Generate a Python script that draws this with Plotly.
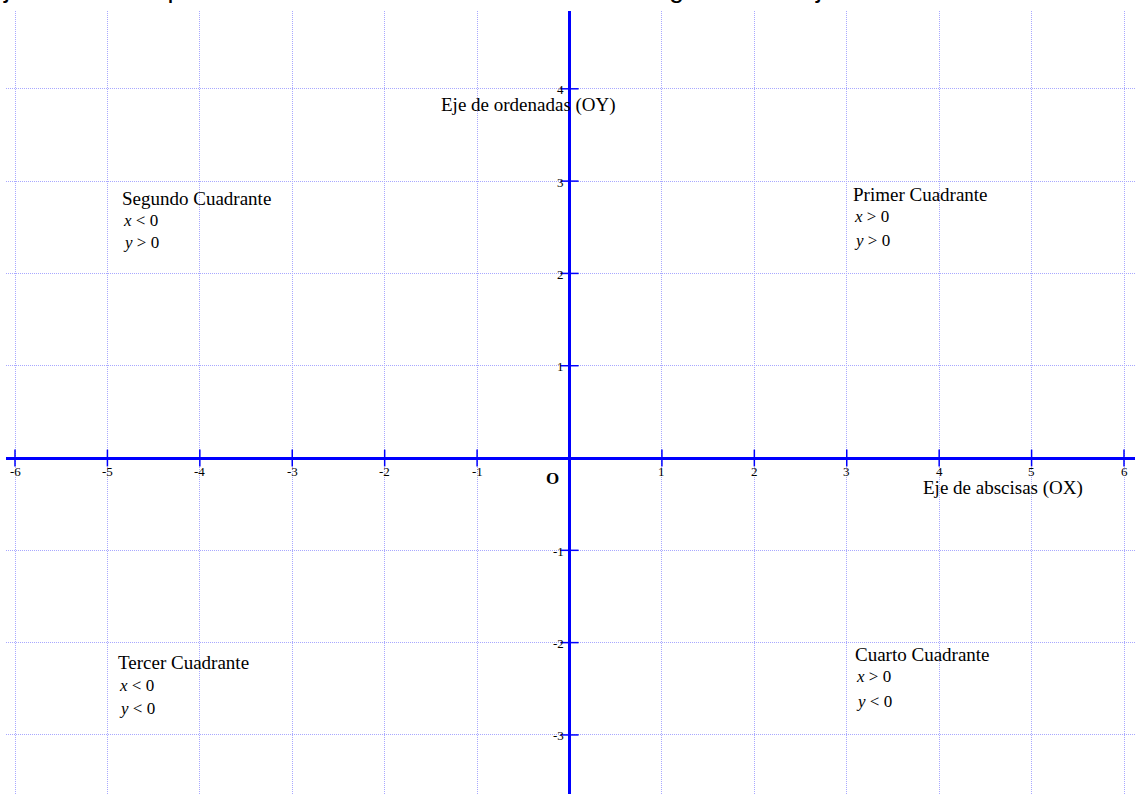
import plotly.graph_objects as go

# ---- data ----
x_ticks = [-6, -5, -4, -3, -2, -1, 1, 2, 3, 4, 5, 6]
x_tick_labels = ["-6", "-5", "-4", "-3", "-2", "-1", "1", "2", "3", "4", "5", "6"]
y_ticks = [-3, -2, -1, 1, 2, 3, 4]
y_tick_labels = ["-3", "-2", "-1", "1", "2", "3", "4"]
grid_x = [-6, -5, -4, -3, -2, -1, 0, 1, 2, 3, 4, 5, 6]
grid_y = [-3, -2, -1, 0, 1, 2, 3, 4]

quadrant_titles = ["Primer Cuadrante", "Segundo Cuadrante", "Tercer Cuadrante", "Cuarto Cuadrante"]
quadrant_x_cond = ["<i>x</i> &gt; 0", "<i>x</i> &lt; 0", "<i>x</i> &lt; 0", "<i>x</i> &gt; 0"]
quadrant_y_cond = ["<i>y</i> &gt; 0", "<i>y</i> &gt; 0", "<i>y</i> &lt; 0", "<i>y</i> &lt; 0"]
quadrant_x = [3.07, -4.84, -4.89, 3.09]
quadrant_title_y = [2.86, 2.81, -2.22, -2.13]
quadrant_xc_y = [2.62, 2.57, -2.46, -2.37]
quadrant_yc_y = [2.36, 2.33, -2.71, -2.64]

top_text = "ejes dividen el plano en 4 cuadrantes como muestra el siguiente dibujo"

BLUE = "#0000ff"
GRID = "#a8a8ff"
SERIF = "Liberation Serif, Times New Roman, serif"

fig = go.Figure()

# tick marks crossing the axes
fig.add_trace(go.Scatter(
    x=x_ticks, y=[0] * len(x_ticks), mode="markers",
    marker=dict(symbol="line-ns-open", size=12, color=BLUE, line=dict(color=BLUE, width=1.5)),
    hoverinfo="skip", showlegend=False))
fig.add_trace(go.Scatter(
    x=[0] * len(y_ticks), y=y_ticks, mode="markers",
    marker=dict(symbol="line-ew-open", size=13, color=BLUE, line=dict(color=BLUE, width=1.5)),
    hoverinfo="skip", showlegend=False))

annotations = []
for xv, lab in zip(x_ticks, x_tick_labels):
    annotations.append(dict(x=xv, y=0, xref="x", yref="y", text=lab, showarrow=False,
                            xanchor="center", yanchor="middle", yshift=-13,
                            font=dict(family=SERIF, size=13, color="black")))
for yv, lab in zip(y_ticks, y_tick_labels):
    annotations.append(dict(x=0, y=yv, xref="x", yref="y", text=lab, showarrow=False,
                            xanchor="right", yanchor="middle", xshift=-4, yshift=-1,
                            font=dict(family=SERIF, size=13, color="black")))

for i in range(4):
    annotations.append(dict(x=quadrant_x[i], y=quadrant_title_y[i], xref="x", yref="y",
                            text=quadrant_titles[i], showarrow=False, xanchor="left",
                            yanchor="middle", xshift=-2,
                            font=dict(family=SERIF, size=19, color="black")))
    annotations.append(dict(x=quadrant_x[i], y=quadrant_xc_y[i], xref="x", yref="y",
                            text=quadrant_x_cond[i], showarrow=False, xanchor="left",
                            yanchor="middle", xshift=-1,
                            font=dict(family=SERIF, size=17, color="black")))
    annotations.append(dict(x=quadrant_x[i], y=quadrant_yc_y[i], xref="x", yref="y",
                            text=quadrant_y_cond[i], showarrow=False, xanchor="left",
                            yanchor="middle", xshift=-1,
                            font=dict(family=SERIF, size=17, color="black")))

annotations.append(dict(x=-0.44, y=3.82, xref="x", yref="y", text="Eje de ordenadas (OY)",
                        showarrow=False, xanchor="center", yanchor="middle",
                        font=dict(family=SERIF, size=19, color="black")))
annotations.append(dict(x=4.69, y=-0.325, xref="x", yref="y", text="Eje de abscisas (OX)",
                        showarrow=False, xanchor="center", yanchor="middle",
                        font=dict(family=SERIF, size=19, color="black")))
annotations.append(dict(x=-0.18, y=-0.217, xref="x", yref="y", text="<b>O</b>",
                        showarrow=False, xanchor="center", yanchor="middle",
                        font=dict(family=SERIF, size=17, color="black")))

annotations.append(dict(x=(-13 - 6) / 1129, y=1.0225, yshift=5, xref="paper", yref="paper",
                        text=top_text, showarrow=False, xanchor="left", yanchor="middle",
                        font=dict(family="Liberation Sans, Arial, sans-serif", size=27, color="black")))

fig.update_layout(
    width=1135, height=794,
    margin=dict(l=6, r=0, t=11, b=0),
    paper_bgcolor="white", plot_bgcolor="white",
    showlegend=False,
    annotations=annotations,
    xaxis=dict(range=[-6.0974, 6.119], tickmode="array", tickvals=grid_x,
               showticklabels=False, ticks="", showgrid=True, gridcolor=GRID,
               griddash="1px,1px", gridwidth=1, zeroline=True, zerolinecolor=BLUE,
               zerolinewidth=2.5, showline=False, fixedrange=True),
    yaxis=dict(range=[-3.640, 4.843], tickmode="array", tickvals=grid_y,
               showticklabels=False, ticks="", showgrid=True, gridcolor=GRID,
               griddash="1px,1px", gridwidth=1, zeroline=True, zerolinecolor=BLUE,
               zerolinewidth=2.5, showline=False, fixedrange=True),
)

fig.write_html("out.html", config={"displayModeBar": False},
               post_script="document.body.style.margin='0px';document.body.style.overflow='hidden';")
